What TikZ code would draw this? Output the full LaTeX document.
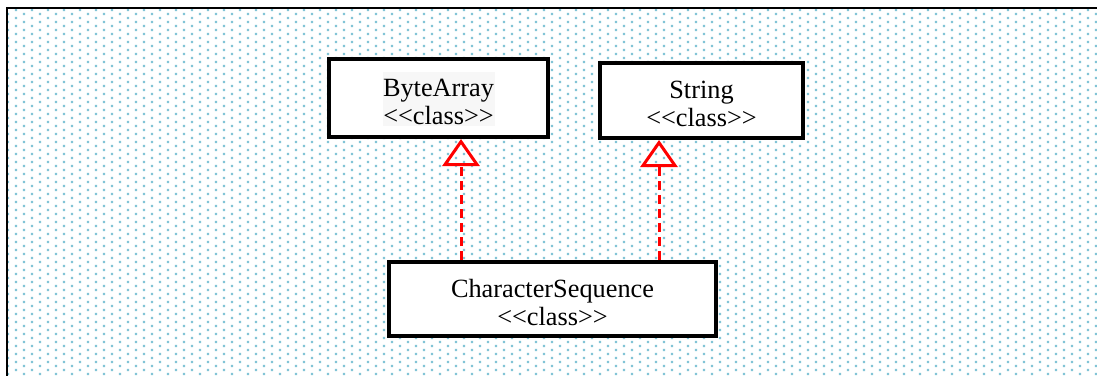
\documentclass[tikz,border=0pt]{standalone}
\usepackage{fontspec}
\setmainfont{Liberation Serif}
\usepackage{tikz}
\usetikzlibrary{arrows.meta}
\definecolor{dotblue}{RGB}{130,196,214}
\newcommand\classstrut{\rule{0pt}{25pt}}

\begin{document}
\begin{tikzpicture}[x=1pt,y=-1pt,
    classbox/.style={draw,fill=white,line width=4pt,align=center,inner sep=0pt,
      font=\fontsize{26.3}{28}\selectfont},
    realize/.style={draw=red,line width=3pt,dash pattern=on 9pt off 5pt,
      -{Triangle[open,length=27pt,width=37pt]}},
    griddot/.style={fill=dotblue}]
    \useasboundingbox (0,0) rectangle (1097,375);
    \fill[white] (0,0) rectangle (1097,375);
    \foreach \j in {0,...,91} {
      \pgfmathsetmacro\rowy{10+4*\j}
      \pgfmathsetmacro\rowx{mod(\j,2)==0 ? 16 : 8}
      \fill[griddot] \foreach \i in {0,...,68} {(\rowx+16*\i-1.2,\rowy-1.2) rectangle ++(2.4,2.4)};
    }
    \draw[line width=2.5pt] (7,380) -- (7,8) -- (1100,8);
    \node[classbox,minimum width=219pt,minimum height=78pt,
      path picture={\fill[black!3] ([shift={(-55.5,-26)}]path picture bounding box.center) rectangle ++(112,54);}]
      (bytearray) at (438.5,98) {\classstrut ByteArray\\<{}<class>{}>};
    \node[classbox,minimum width=203pt,minimum height=75pt] (string) at (701.5,100.5)
      {\classstrut String\\<{}<class>{}>};
    \node[classbox,minimum width=327pt,minimum height=74pt] (charseq) at (552.5,299)
      {\classstrut CharacterSequence\\<{}<class>{}>};
    \draw[realize] ([xshift=-91.5pt]charseq.north) -- ([xshift=-91.5pt]charseq.north |- bytearray.south);
    \draw[realize] ([xshift=106.5pt]charseq.north) -- ([xshift=106.5pt]charseq.north |- string.south);
  \end{tikzpicture}
\end{document}
